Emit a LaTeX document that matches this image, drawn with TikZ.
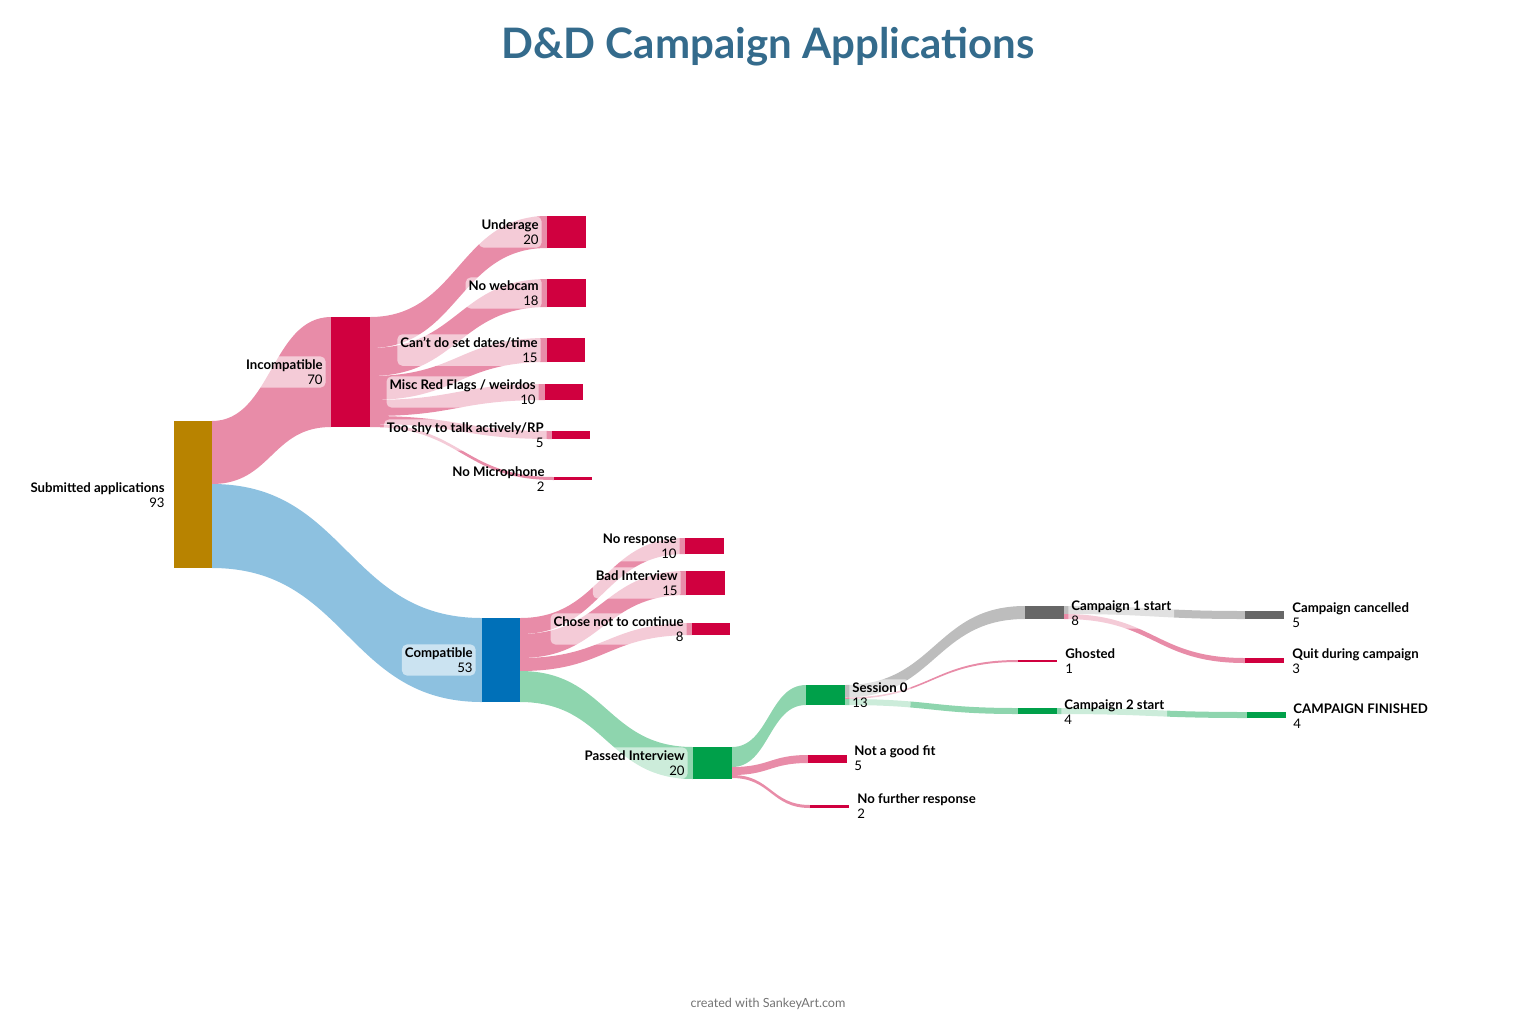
\documentclass[tikz,border=0pt]{standalone}
\usepackage{fontspec}
\setmainfont{Lato}
\definecolor{crim}{HTML}{D0003F}
\definecolor{gold}{HTML}{B88300}
\definecolor{pinkf}{HTML}{E88CA8}
\definecolor{bluef}{HTML}{8DC1E0}
\definecolor{blueN}{HTML}{0070B8}
\definecolor{greenf}{HTML}{8ED5AE}
\definecolor{greenN}{HTML}{00A04A}
\definecolor{grayf}{HTML}{BDBDBD}
\definecolor{grayN}{HTML}{676767}
\definecolor{titlec}{HTML}{346B8C}
\newcommand\flow[7]{\fill[#7] (#1,#2) .. controls ({(#1+#4)/2},#2) and ({(#1+#4)/2},#5) .. (#4,#5) -- (#4,#6) .. controls ({(#1+#4)/2},#6) and ({(#1+#4)/2},#3) .. (#1,#3) -- cycle;}
\newcommand\sbar[6]{\fill[#6] (#2,#3) rectangle (#4,#5); \coordinate (#1) at ({(#2+#4)/2},{(#3+#5)/2});}
\tikzset{
 lab/.style={font=\fontsize{6.6}{7.6}\selectfont, inner sep=1.5pt, fill=white, fill opacity=0.55, text opacity=1, rounded corners=2.5pt},
 labR/.style={lab, anchor=east, align=right},
 labL/.style={lab, anchor=west, align=left},
}
\begin{document}
\begin{tikzpicture}[x=0.5pt,y=-0.5pt]
\useasboundingbox (0,0) rectangle (1536,1024);
% flows
\flow{212}{421}{484}{331}{317}{427}{pinkf}
\flow{212}{484}{568}{482}{618}{702}{bluef}
\flow{370}{317}{348}{547}{216}{248}{pinkf}
\flow{370}{348}{376}{547}{279}{307}{pinkf}
\flow{370}{376}{400}{547}{338}{362}{pinkf}
\flow{370}{400}{416}{545}{384}{400}{pinkf}
\flow{370}{416}{424}{552}{431}{439}{pinkf}
\flow{370}{424}{427}{554}{477}{480}{pinkf}
\flow{520}{618}{634}{685}{538}{554}{pinkf}
\flow{520}{634}{658}{686}{571}{595}{pinkf}
\flow{520}{658}{671}{692}{623}{635}{pinkf}
\flow{520}{671}{702}{693}{747}{779}{greenf}
\flow{732}{747}{767}{806}{685}{705}{greenf}
\flow{732}{767}{775}{808}{755}{763}{pinkf}
\flow{732}{775}{778}{810}{805}{808}{pinkf}
\flow{845}{685}{697.5}{1025}{606}{619}{grayf}
\flow{845}{697.5}{699}{1018}{660}{662}{pinkf}
\flow{845}{699}{705}{1018}{708}{714}{greenf}
\flow{1064}{606}{614}{1245}{611}{619}{grayf}
\flow{1064}{614}{619}{1245}{658}{663}{pinkf}
\flow{1057}{708}{714}{1247}{712}{718}{greenf}
% bars
\sbar{sub}{174}{421}{212}{568}{gold}
\sbar{inc}{331}{317}{370}{427}{crim}
\sbar{com}{482}{618}{520}{702}{blueN}
\sbar{und}{547}{216}{586}{248}{crim}
\sbar{web}{547}{279}{586}{307}{crim}
\sbar{cant}{547}{338}{585}{362}{crim}
\sbar{misc}{545}{384}{583}{400}{crim}
\sbar{shy}{552}{431}{590}{439}{crim}
\sbar{mic}{554}{477}{592}{480}{crim}
\sbar{nor}{685}{538}{724}{554}{crim}
\sbar{bad}{686}{571}{725}{595}{crim}
\sbar{cho}{692}{623}{730}{635}{crim}
\sbar{pas}{693}{747}{732}{779}{greenN}
\sbar{ses}{806}{685}{845}{705}{greenN}
\sbar{ngf}{808}{755}{847}{763}{crim}
\sbar{nfr}{810}{805}{849}{808}{crim}
\sbar{c1}{1025}{606}{1064}{619}{grayN}
\sbar{gho}{1018}{660}{1057}{662}{crim}
\sbar{c2}{1018}{708}{1057}{714}{greenN}
\sbar{can}{1245}{611}{1284}{619}{grayN}
\sbar{quit}{1245}{658}{1284}{663}{crim}
\sbar{fin}{1247}{712}{1286}{718}{greenN}
% labels
\node[labR, fill opacity=0] (lsub) at (168,495) {\textbf{Submitted applications}\\93};
\node[labR] (linc) at (326,372) {\textbf{Incompatible}\\70};
\node[labR] (lund) at (542,232) {\textbf{Underage}\\20};
\node[labR] (lweb) at (542,293) {\textbf{No webcam}\\18};
\node[labR] (lcant) at (541,350) {\textbf{Can't do set dates/time}\\15};
\node[labR] (lmisc) at (539,392) {\textbf{Misc Red Flags / weirdos}\\10};
\node[labR] (lshy) at (547,435) {\textbf{Too shy to talk actively/RP}\\5};
\node[labR, fill opacity=0] (lmic) at (548,479) {\textbf{No Microphone}\\2};
\node[labR] (lcom) at (476,660) {\textbf{Compatible}\\53};
\node[labR] (lnor) at (680,546) {\textbf{No response}\\10};
\node[labR] (lbad) at (681,583) {\textbf{Bad Interview}\\15};
\node[labR] (lcho) at (687,629) {\textbf{Chose not to continue}\\8};
\node[labR] (lpas) at (688,763) {\textbf{Passed Interview}\\20};
\node[labL] (lses) at (849,695) {\textbf{Session 0}\\13};
\node[labL, fill opacity=0] (lngf) at (851,758) {\textbf{Not a good fit}\\5};
\node[labL, fill opacity=0] (lnfr) at (854,806) {\textbf{No further response}\\2};
\node[labL] (lc1) at (1068,613) {\textbf{Campaign 1 start}\\8};
\node[labL, fill opacity=0] (lgho) at (1062,661) {\textbf{Ghosted}\\1};
\node[labL] (lc2) at (1061,712) {\textbf{Campaign 2 start}\\4};
\node[labL, fill opacity=0] (lcan) at (1289,615) {\textbf{Campaign cancelled}\\5};
\node[labL, fill opacity=0] (lquit) at (1289,661) {\textbf{Quit during campaign}\\3};
\node[labL, fill opacity=0] (lfin) at (1290,716) {\textbf{CAMPAIGN FINISHED}\\4};
% title and footer
\node[font=\fontsize{21}{24}\selectfont\bfseries, text=titlec] (title) at (768,47) {D\&D Campaign Applications};
\node[font=\fontsize{6.3}{7}\selectfont, text=black!55] (foot) at (768,1004) {created with SankeyArt.com};
\end{tikzpicture}
\end{document}
